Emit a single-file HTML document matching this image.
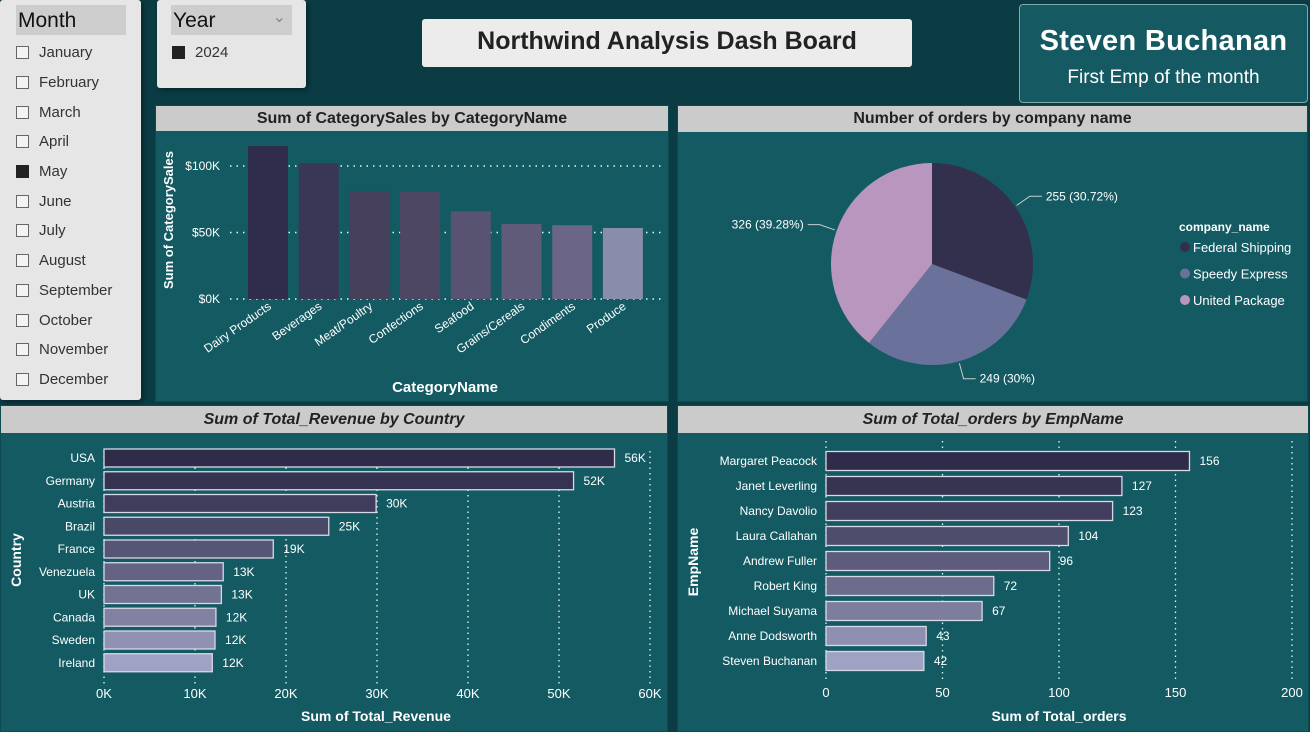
<!DOCTYPE html>
<html><head><meta charset="utf-8">
<style>
body{margin:0;width:1310px;height:732px;background:#0b3c44;font-family:"Liberation Sans",sans-serif;position:relative;overflow:hidden}
.abs{position:absolute}
.slicer{background:#e6e6e6;border-radius:3px;box-shadow:2px 2px 6px rgba(0,0,0,.4)}
.sh{background:#cdcdcd;font-size:21px;color:#111;padding:4px 2px;box-sizing:border-box}
.item{font-size:15px;color:#333;display:flex;align-items:center;height:29.7px}
.cb{width:13px;height:13px;border:1px solid #666;margin-right:10px;box-sizing:border-box;background:#f3f3f3}
.cb.on{background:#222;border-color:#222}
.panel{background:#145a63;border:1px solid #0d4a52}
.ph{background:#cbcbcb;color:#222;font-weight:bold;font-size:16px;text-align:center;box-sizing:border-box}
svg text{font-family:"Liberation Sans",sans-serif}
</style></head><body>
<div class="abs slicer" style="left:0;top:0;width:141px;height:400px">
 <div class="abs sh" style="left:16px;top:5px;width:110px;height:30px">Month</div>
 <div class="abs" id="months" style="left:16px;top:38px;width:120px"></div>
</div>
<div class="abs slicer" style="left:157px;top:0;width:149px;height:88px">
 <div class="abs sh" style="left:14px;top:5px;width:121px;height:30px">Year<span style="position:absolute;right:6px;top:2px;font-size:16px;color:#888">&#8964;</span></div>
 <div class="abs item" style="left:15px;top:38px"><div class="cb on"></div>2024</div>
</div>
<div class="abs" style="left:422px;top:19px;width:490px;height:48px;background:#ececec;border-radius:3px;font-weight:bold;font-size:25px;color:#222;text-align:center;line-height:44px">Northwind Analysis Dash Board</div>
<div class="abs" style="left:1019px;top:4px;width:287px;height:97px;background:#155a63;border:1px solid #7fa9ad;border-radius:4px;color:#fff;text-align:center">
 <div style="font-size:29px;font-weight:bold;margin-top:20px;letter-spacing:.3px">Steven Buchanan</div>
 <div style="font-size:19px;margin-top:9px">First Emp of the month</div>
</div>

<div class="abs panel" style="left:155px;top:105px;width:512px;height:295px">
 <div class="ph" style="height:25px;line-height:25px">Sum of CategorySales by CategoryName</div>
</div>
<div class="abs panel" style="left:677px;top:105px;width:629px;height:295px">
 <div class="ph" style="height:26px;line-height:26px">Number of orders by company name</div>
</div>
<div class="abs panel" style="left:0;top:405px;width:666px;height:325px">
 <div class="ph" style="height:27px;line-height:27px;font-style:italic">Sum of Total_Revenue by Country</div>
</div>
<div class="abs panel" style="left:677px;top:405px;width:630px;height:325px">
 <div class="ph" style="height:27px;line-height:27px;font-style:italic">Sum of Total_orders by EmpName</div>
</div>
<svg id="chart" class="abs" style="left:0;top:0" width="1310" height="732" xmlns="http://www.w3.org/2000/svg"></svg>
<script>
const months=["January","February","March","April","May","June","July","August","September","October","November","December"];
const selectedMonth="May";
const catNames=["Dairy Products","Beverages","Meat/Poultry","Confections","Seafood","Grains/Cereals","Condiments","Produce"];
const catSales=[115,102,81,80.5,66,56.4,55.5,53.4];
const catTicks=[0,50,100];
const companies=["Federal Shipping","Speedy Express","United Package"];
const orderCounts=[255,249,326];
const countries=["USA","Germany","Austria","Brazil","France","Venezuela","UK","Canada","Sweden","Ireland"];
const revenue=[56.1,51.6,29.9,24.7,18.6,13.1,12.9,12.3,12.2,11.9];
const revTicks=[0,10,20,30,40,50,60];
const emps=["Margaret Peacock","Janet Leverling","Nancy Davolio","Laura Callahan","Andrew Fuller","Robert King","Michael Suyama","Anne Dodsworth","Steven Buchanan"];
const empOrders=[156,127,123,104,96,72,67,43,42];
const empTicks=[0,50,100,150,200];

const ms=document.getElementById('months');
months.forEach(m=>{const d=document.createElement('div');d.className='item';


d.innerHTML='<div class="cb'+(m===selectedMonth?' on':'')+'"></div>'+m;ms.appendChild(d);});

const svg=document.getElementById('chart');const NS='http://www.w3.org/2000/svg';
function el(t,a,txt){const e=document.createElementNS(NS,t);for(const k in a)e.setAttribute(k,a[k]);if(txt!==undefined)e.textContent=txt;svg.appendChild(e);return e;}
function shade(i,n,pw){const a=[47,44,74],b=[160,162,196];const t=n>1?i/(n-1):0;
 return 'rgb('+a.map((v,j)=>Math.round(v+(b[j]-v)*Math.pow(t,pw||1.6))).join(',')+')';}
const catCols=['#302c4b','#3a3656','#46405a','#4e4763','#575370','#615b7a','#6b6687','#8a8cac'];

// category column chart
const cy0=299,cyS=1.33,cx0=248,cstep=50.7,cw=40;
const cY=v=>cy0-v*cyS;
catTicks.forEach(t=>{const l=el('line',{x1:230,x2:662,y1:cY(t),y2:cY(t),stroke:'#dfe',"stroke-dasharray":'1.5 5',"stroke-width":1.5});

const tx=el('text',{x:220,y:cY(t)+4,fill:'#fff',"font-size":12,"text-anchor":'end'},'$'+t+'K');
});
catNames.forEach((c,i)=>{const x=cx0+i*cstep;
 const r=el('rect',{x:x,y:cY(catSales[i]),width:cw,height:catSales[i]*cyS,fill:catCols[i%catCols.length]});
 
 const t=el('text',{x:x+cw/2+4,y:308,fill:'#fff',"font-size":12,"text-anchor":'end',transform:'rotate(-35 '+(x+cw/2+4)+' 308)'},c);
 });
let t1=el('text',{x:445,y:392,fill:'#fff',"font-size":15,"font-weight":'bold',"text-anchor":'middle'},'CategoryName');

t1=el('text',{x:173,y:220,fill:'#fff',"font-size":13,"font-weight":'bold',"text-anchor":'middle',transform:'rotate(-90 173 220)'},'Sum of CategorySales');


// pie
const pcx=932,pcy=264,pr=101;const tot=orderCounts.reduce((a,b)=>a+b,0);
const pieCols=['#33304d','#6a729b','#b996bd'];
let ang=-Math.PI/2;
orderCounts.forEach((v,i)=>{const a2=ang+v/tot*2*Math.PI;
 const x1=pcx+pr*Math.cos(ang),y1=pcy+pr*Math.sin(ang),x2=pcx+pr*Math.cos(a2),y2=pcy+pr*Math.sin(a2);
 const p=el('path',{d:`M${pcx},${pcy}L${x1},${y1}A${pr},${pr} 0 ${a2-ang>Math.PI?1:0} 1 ${x2},${y2}Z`,fill:pieCols[i]});
 
 const m=(ang+a2)/2;const ex=pcx+(pr+2)*Math.cos(m),ey=pcy+(pr+2)*Math.sin(m);
 const right=Math.cos(m)>0;const lx=pcx+(pr+18)*Math.cos(m),ly=pcy+(pr+18)*Math.sin(m);
 const hx=lx+(right?12:-12);
 el('polyline',{points:`${ex},${ey} ${lx},${ly} ${hx},${ly}`,fill:'none',stroke:'#ccc',"stroke-width":1});
 const pct=Math.round(v/tot*10000)/100;
 const lt=el('text',{x:hx+(right?4:-4),y:ly+4,fill:'#fff',"font-size":12,"text-anchor":right?'start':'end'},v+' ('+pct+'%)');
 
 ang=a2;});
t1=el('text',{x:1179,y:231,fill:'#fff',"font-size":12,"font-weight":'bold'},'company_name');

companies.forEach((c,i)=>{const y=247+i*26.5;el('circle',{cx:1185,cy:y,r:5,fill:pieCols[i]});
 const t=el('text',{x:1193,y:y+5,fill:'#fff',"font-size":13},c);});

// horizontal bar helper
function hbar(cats,vals,ticks,x0,xmax,tmax,yT,y0,step,bh,gridTop,gridBot,fmt,prefix,tickY){
 const X=v=>x0+v*(xmax-x0)/tmax;
 ticks.forEach(t=>{const l=el('line',{x1:X(t),x2:X(t),y1:gridTop,y2:gridBot,stroke:'#dfe',"stroke-dasharray":'1.5 4',"stroke-width":1.3});
  
  const tx=el('text',{x:X(t),y:tickY,fill:'#fff',"font-size":13,"text-anchor":'middle'},fmt(t,true));
  });
 cats.forEach((c,i)=>{const y=y0+i*step;
  const r=el('rect',{x:x0,y:y-bh/2,width:X(vals[i])-x0,height:bh,fill:shade(i,cats.length,1.3),stroke:'#d8d8e6',"stroke-width":1.3});
  
  const a=el('text',{x:x0-9,y:y+4,fill:'#fff',"font-size":12,"text-anchor":'end'},c);
  
  const b=el('text',{x:X(vals[i])+10,y:y+4,fill:'#fff',"font-size":12},fmt(vals[i],false));
  });
}
hbar(countries,revenue,revTicks,104,650,60,0,458,22.75,18,451,686,(v)=>Math.round(v)+'K','country',698);
t1=el('text',{x:376,y:721,fill:'#fff',"font-size":14,"font-weight":'bold',"text-anchor":'middle'},'Sum of Total_Revenue');

t1=el('text',{x:21,y:560,fill:'#fff',"font-size":14,"font-weight":'bold',"text-anchor":'middle',transform:'rotate(-90 21 560)'},'Country');


hbar(emps,empOrders,empTicks,826,1292,200,0,461,25,19,441,680,(v)=>String(Math.round(v)),'emp',697);
t1=el('text',{x:1059,y:721,fill:'#fff',"font-size":14,"font-weight":'bold',"text-anchor":'middle'},'Sum of Total_orders');

t1=el('text',{x:698,y:562,fill:'#fff',"font-size":14,"font-weight":'bold',"text-anchor":'middle',transform:'rotate(-90 698 562)'},'EmpName');

</script>
</body></html>
